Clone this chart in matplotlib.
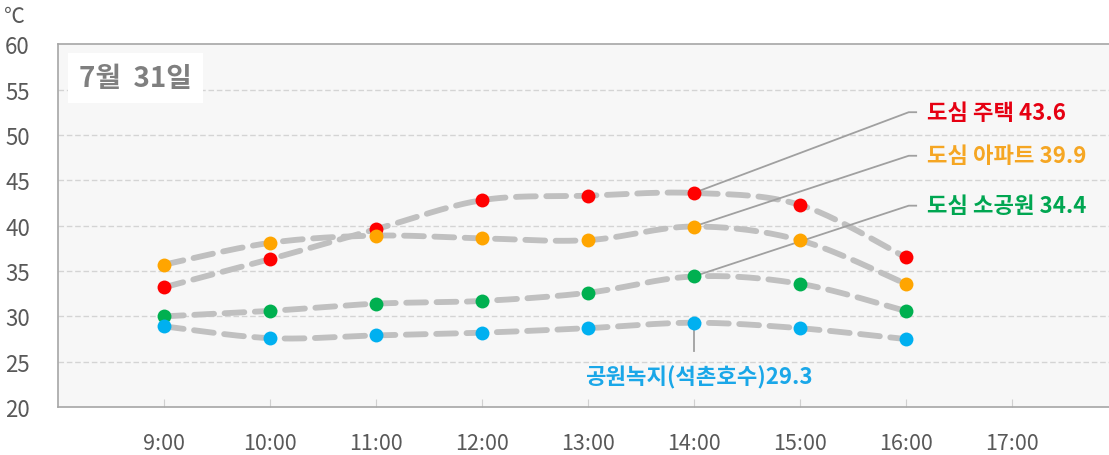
import matplotlib
matplotlib.use("Agg")
import matplotlib.pyplot as plt
import numpy as np

plt.rcParams['font.family'] = ['Noto Sans CJK KR', 'DejaVu Sans']

# data
hours = [9, 10, 11, 12, 13, 14, 15, 16]
tick_hours = [9, 10, 11, 12, 13, 14, 15, 16, 17]
tick_labels = ["9:00", "10:00", "11:00", "12:00", "13:00", "14:00", "15:00", "16:00", "17:00"]

house = [33.2, 36.3, 39.6, 42.8, 43.3, 43.6, 42.3, 36.5]
apart = [35.7, 38.1, 38.9, 38.6, 38.4, 39.9, 38.4, 33.6]
small_park = [30.0, 30.6, 31.4, 31.7, 32.6, 34.4, 33.6, 30.6]
green_area = [28.9, 27.6, 27.9, 28.2, 28.7, 29.3, 28.7, 27.5]

series_names = ["도심 주택", "도심 아파트", "도심 소공원", "공원녹지(석촌호수)"]
series_colors = ['#ff0000', '#ffa500', '#00b050', '#00b0f0']
label_colors = ['#e60012', '#f5a623', '#00a651', '#1aa7e8']
peak_hour = 14


def smooth(xs, ys, n=30):
    # catmull-rom style bezier like excel's smoothed line
    x = np.asarray(xs, float)
    y = np.asarray(ys, float)
    px = np.concatenate([[x[0]], x, [x[-1]]])
    py = np.concatenate([[y[0]], y, [y[-1]]])
    outx, outy = [], []
    t = np.linspace(0, 1, n)
    for i in range(1, len(px) - 2):
        p0 = np.array([px[i - 1], py[i - 1]])
        p1 = np.array([px[i], py[i]])
        p2 = np.array([px[i + 1], py[i + 1]])
        p3 = np.array([px[i + 2], py[i + 2]])
        c1 = p1 + (p2 - p0) / 6
        c2 = p2 - (p3 - p1) / 6
        b = (np.outer((1 - t) ** 3, p1) + np.outer(3 * (1 - t) ** 2 * t, c1)
             + np.outer(3 * (1 - t) * t ** 2, c2) + np.outer(t ** 3, p2))
        outx.extend(b[:, 0])
        outy.extend(b[:, 1])
    return outx, outy


fig = plt.figure(figsize=(11.09, 4.56), dpi=100)
ax = fig.add_axes([0.0523, 0.105, 0.9477, 0.796])
ax.set_facecolor('#f7f7f7')

all_series = [house, apart, small_park, green_area]
for vals, col in zip(all_series, series_colors):
    sx, sy = smooth(hours, vals)
    ax.plot(sx, sy, color='#c0c0c0', lw=4.2, dashes=(3.4, 1.8),
            dash_capstyle='round', zorder=2)
    ax.plot(hours, vals, 'o', color=col, ms=10, mec='none', zorder=3)

ax.set_xlim(8.0, 17.92)
ax.set_ylim(20, 60)
ax.set_yticks(range(20, 61, 5))
ax.set_xticks(tick_hours, labels=tick_labels)
ax.tick_params(axis='y', length=0, pad=38, labelsize=16, labelcolor='#595959')
ax.tick_params(axis='x', direction='in', length=6, color='#d0d0d0', pad=18,
               labelsize=15.5, labelcolor='#595959')
for lab in ax.get_yticklabels():
    lab.set_horizontalalignment('left')
for y in range(25, 60, 5):
    ax.axhline(y, color='#d4d4d4', lw=1, ls=(0, (4, 2)), zorder=1)
for s in ['left', 'bottom', 'top']:
    ax.spines[s].set_color('#a6a6a6')
    ax.spines[s].set_linewidth(1.2)
ax.spines['right'].set_visible(False)

fig.text(0.004, 0.962, "℃", fontsize=15, color='#595959', va='center')

# date box
ax.text(8.2, 56.3, "7월  31일", fontsize=20, fontweight='bold', color='#7f7f7f',
        va='center', ha='left',
        bbox=dict(boxstyle='square,pad=0.4', fc='white', ec='none'))

# callouts for the 14:00 values
i14 = hours.index(peak_hour)
label_y = [52.5, 47.7, 42.2]
for vals, name, lc, ly in zip(all_series[:3], series_names[:3], label_colors[:3], label_y):
    ax.plot([peak_hour, 16.03, 16.1], [vals[i14], ly, ly], color='#a0a0a0', lw=1.3, zorder=2.5)
    ax.text(16.2, ly, f"{name} {vals[i14]}", color=lc, fontsize=16, fontweight='bold',
            va='center', ha='left')

ax.plot([peak_hour, peak_hour], [green_area[i14], 26.2], color='#a0a0a0', lw=1.3, zorder=2.5)
ax.text(peak_hour + 0.05, 23.4, f"{series_names[3]}{green_area[i14]}", color=label_colors[3],
        fontsize=16, fontweight='bold', va='center', ha='center')

fig.savefig("out.png", dpi=100)
